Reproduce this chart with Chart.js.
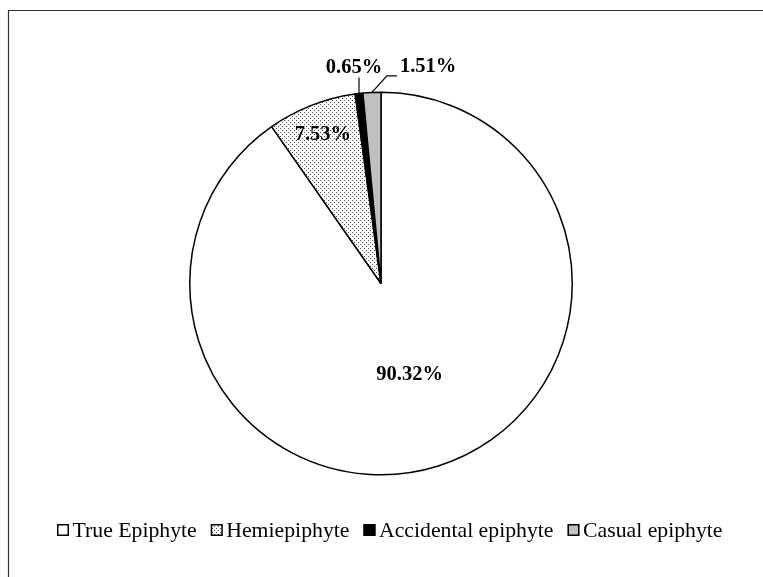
<!DOCTYPE html>
<html>
<head>
<meta charset="utf-8">
<script src="https://cdn.jsdelivr.net/npm/chart.js@4/dist/chart.umd.min.js"></script>
<style>
  html, body { margin: 0; padding: 0; background: #fff; }
  canvas { display: block; }
</style>
</head>
<body>
<canvas id="c" width="763" height="577"></canvas>
<script>
// Epiphyte life-form categories and their share of species (%)
const categories = ['True Epiphyte', 'Hemiepiphyte', 'Accidental epiphyte', 'Casual epiphyte'];
const shares = [90.32, 7.53, 0.65, 1.51];

const canvas = document.getElementById('c');
const ctx = canvas.getContext('2d');

// Stippled fill used for the hemiepiphyte slice
function stipple() {
  const t = document.createElement('canvas');
  t.width = 4; t.height = 4;
  const g = t.getContext('2d');
  g.fillStyle = '#fff';
  g.fillRect(0, 0, 4, 4);
  g.fillStyle = '#4a4a4a';
  g.fillRect(0, 0, 1, 1);
  g.fillRect(2, 2, 1, 1);
  return ctx.createPattern(t, 'repeat');
}

const fills = ['#ffffff', stipple(), '#000000', '#c0c0c0'];

// Where each percentage label sits: inside at a fraction of the radius,
// or outside at the end of a leader line drawn from the slice edge.
const labelPlacement = [
  { inside: 0.50 },
  { inside: 0.835 },
  { leader: [[0, -16]], text: [-5, -5], align: 'center' },
  { leader: [[15, -16.5], [25, -16.5]], text: [3, -3.5], align: 'left' }
];

const SERIF = '"Liberation Serif", "Times New Roman", serif';

const framePlugin = {
  id: 'frame',
  beforeDraw(chart) {
    const c = chart.ctx;
    c.save();
    c.fillStyle = '#fff';
    c.fillRect(0, 0, chart.width, chart.height);
    c.strokeStyle = '#333';
    c.lineWidth = 1.2;
    c.beginPath();
    c.moveTo(8.5, chart.height);
    c.lineTo(8.5, 10.5);
    c.lineTo(chart.width, 10.5);
    c.stroke();
    c.restore();
  }
};

const sliceLabels = {
  id: 'sliceLabels',
  afterDatasetsDraw(chart) {
    const c = chart.ctx;
    const meta = chart.getDatasetMeta(0);
    c.save();
    c.font = 'bold 20.5px ' + SERIF;
    c.fillStyle = '#000';
    c.strokeStyle = '#000';
    c.lineWidth = 1.2;
    meta.data.forEach((arc, i) => {
      const p = arc.getProps(['x', 'y', 'startAngle', 'endAngle', 'outerRadius'], true);
      const mid = (p.startAngle + p.endAngle) / 2;
      const text = shares[i].toFixed(2) + '%';
      const place = labelPlacement[i];
      if (place.inside !== undefined) {
        const r = p.outerRadius * place.inside;
        c.textAlign = 'center';
        c.textBaseline = 'middle';
        c.fillText(text, p.x + Math.cos(mid) * r, p.y + Math.sin(mid) * r);
      } else {
        const ex = p.x + Math.cos(mid) * p.outerRadius;
        const ey = p.y + Math.sin(mid) * p.outerRadius;
        c.beginPath();
        c.moveTo(ex, ey);
        let lx = ex, ly = ey;
        place.leader.forEach(([dx, dy]) => {
          lx = ex + dx; ly = ey + dy;
          c.lineTo(lx, ly);
        });
        c.stroke();
        c.textAlign = place.align;
        c.textBaseline = 'alphabetic';
        c.fillText(text, lx + place.text[0], ly + place.text[1]);
      }
    });
    c.restore();
  }
};

// Single-row legend under the pie
const bottomLegend = {
  id: 'bottomLegend',
  afterDraw(chart) {
    const c = chart.ctx;
    const ds = chart.data.datasets[0];
    const box = 12, gapText = 3.5, gapItem = 14;
    c.save();
    c.font = '21.75px ' + SERIF;
    c.textBaseline = 'alphabetic';
    c.textAlign = 'left';
    let x = 57;
    const boxTop = 524, baseline = 537;
    chart.data.labels.forEach((label, i) => {
      c.fillStyle = ds.backgroundColor[i];
      c.fillRect(x, boxTop, box, box);
      c.strokeStyle = '#000';
      c.lineWidth = 1.5;
      c.strokeRect(x + 0.75, boxTop + 0.75, box - 1.5, box - 1.5);
      const tx = x + box + gapText;
      c.fillStyle = '#000';
      c.fillText(label, tx, baseline);
      x = tx + c.measureText(label).width + gapItem;
    });
    c.restore();
  }
};

function draw() {
  new Chart(ctx, {
    type: 'pie',
    data: {
      labels: categories,
      datasets: [{
        data: shares,
        backgroundColor: fills,
        borderColor: '#000',
        borderWidth: 1.5
      }]
    },
    options: {
      responsive: false,
      animation: false,
      layout: { padding: { top: 91.5, bottom: 101.5, left: 0, right: 1 } },
      plugins: {
        legend: { display: false },
        tooltip: { enabled: false }
      }
    },
    plugins: [framePlugin, sliceLabels, bottomLegend]
  });
}

Promise.all([
  document.fonts.load('21.75px "Liberation Serif"'),
  document.fonts.load('bold 20.5px "Liberation Serif"')
]).then(draw, draw);
</script>
</body>
</html>
